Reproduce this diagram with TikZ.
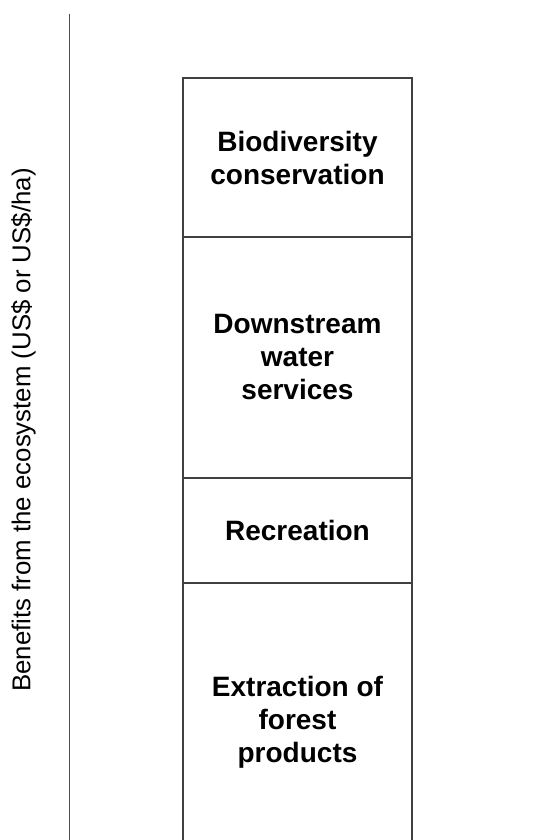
\documentclass[tikz,border=0pt]{standalone}
\usepackage{fontspec}
\setmainfont{Liberation Sans}
\usetikzlibrary{positioning}

\begin{document}
\begin{tikzpicture}[x=1pt, y=1pt, node distance=0pt,
    seg/.style={draw=black!75, line width=1.3pt, minimum width=229pt, outer sep=0pt,
      inner sep=0pt, align=center, font=\fontsize{28}{33}\selectfont\bfseries},
    axis/.style={draw=black!70, line width=1.3pt}]
  \useasboundingbox (0,0) rectangle (539,-840);
  % Nodes
  \node[seg, minimum height=159pt] (bio) at (297.5,-157.5) {Biodiversity\\conservation};
  \node[seg, minimum height=241pt] (water) [below=of bio] {Downstream\\water\\services};
  \node[seg, minimum height=105pt] (rec) [below=of water] {Recreation};
  \node[seg, minimum height=279pt] (forest) [below=of rec] {Extraction of\\forest\\products};
  \node[rotate=90, font=\fontsize{25.8}{30}\selectfont] (label) at (23.5,-430)
    {Benefits from the ecosystem (US\$ or US\$/ha)};
  % Axis
  \coordinate (axtop) at (69.5,-14);
  \coordinate (axbot) at (69.5,-850);
  \draw[axis] (axtop) -- (axbot);
\end{tikzpicture}
\end{document}
